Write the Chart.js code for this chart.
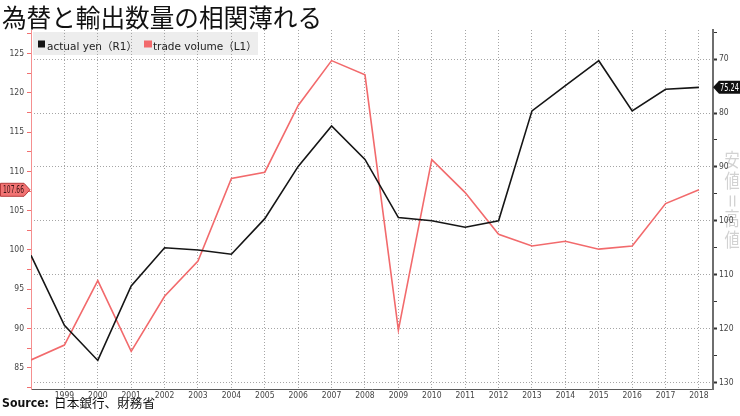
<!DOCTYPE html>
<html>
<head>
<meta charset="utf-8">
<script src="https://cdn.jsdelivr.net/npm/chart.js@4/dist/chart.umd.min.js"></script>
<style>
html,body{margin:0;padding:0;background:#fff;}
canvas{display:block;}
</style>
</head>
<body>
<canvas id="c" width="740" height="416"></canvas>
<script>
// ---- data ----
const years = [1998,1999,2000,2001,2002,2003,2004,2005,2006,2007,2008,2009,2010,2011,2012,2013,2014,2015,2016,2017,2018];
const actualYen = [106.4,119.4,125.9,112.1,105.0,105.4,106.2,99.6,89.9,82.4,88.6,99.4,100.0,101.2,100.0,79.6,74.9,70.3,79.6,75.6,75.24];
const tradeVolume = [86.0,87.9,96.1,87.1,94.1,98.6,109.1,109.9,118.4,124.1,122.3,89.8,111.5,107.3,102.0,100.5,101.1,100.1,100.5,105.9,107.66];
const xTickYears = [1999,2000,2001,2002,2003,2004,2005,2006,2007,2008,2009,2010,2011,2012,2013,2014,2015,2016,2017,2018];
const leftTickLabels = [85,90,95,100,105,110,115,120,125];
const rightTickLabels = [70,80,90,100,110,120,130];
const titleText = '為替と輸出数量の相関薄れる';
const legendLabels = ['actual yen（R1）', 'trade volume（L1）'];
const sourceLabel = 'Source:';
const sourceText = '日本銀行、財務省';
const watermarkChars = ['安','値','＝','高','値'];

// minor ticks derived from the labelled ticks
const leftTicks = [];
leftTickLabels.forEach(v => { leftTicks.push(v - 2.5, v); });
leftTicks.push(127.5);
const rightTicks = [];
rightTickLabels.forEach(v => { rightTicks.push(v - 5, v); });

const RED = '#f26a6c';
const BLACK = '#151515';
const TICK_FONT = {family: '"Liberation Sans Narrow","DejaVu Sans Condensed","Liberation Sans",sans-serif', size: 8.5};
const LEGEND_FONT = '10.5px "DejaVu Sans", "Noto Sans CJK JP"';

function fitText(ctx, text, x, y, w, font, color) {
  ctx.save();
  ctx.font = font;
  ctx.fillStyle = color;
  ctx.textBaseline = 'alphabetic';
  ctx.textAlign = 'left';
  const m = ctx.measureText(text).width;
  ctx.translate(x, y);
  ctx.scale(w / m, 1);
  ctx.fillText(text, 0, 0);
  ctx.restore();
}

function plainText(ctx, text, x, y, font, color) {
  ctx.save();
  ctx.font = font;
  ctx.fillStyle = color;
  ctx.textBaseline = 'alphabetic';
  ctx.textAlign = 'left';
  ctx.fillText(text, x, y);
  ctx.restore();
}

const overlay = {
  id: 'overlay',
  beforeDraw(chart) {
    const ctx = chart.ctx;
    ctx.save();
    ctx.fillStyle = '#fff';
    ctx.fillRect(0, 0, chart.width, chart.height);
    // legend box
    ctx.fillStyle = '#ededed';
    ctx.fillRect(33, 32, 225, 23);
    // vertical watermark
    ctx.fillStyle = '#d2d2d2';
    ctx.font = '19px "Noto Sans CJK JP"';
    ctx.textAlign = 'center';
    ctx.textBaseline = 'middle';
    const ys = [160, 181, 201, 219, 240];
    watermarkChars.forEach((ch, i) => {
      ctx.save();
      ctx.translate(732, ys[i]);
      if (ch === '＝') ctx.rotate(Math.PI / 2);
      ctx.scale(0.8, 1);
      ctx.fillText(ch, 0, 0);
      ctx.restore();
    });
    ctx.restore();
  },
  afterDraw(chart) {
    const ctx = chart.ctx;
    // title
    fitText(ctx, titleText, 2, 26.5, 320, '25px "Noto Sans CJK JP"', '#111');
    // legend
    ctx.save();
    ctx.fillStyle = BLACK; ctx.fillRect(38, 40.5, 7, 7);
    ctx.fillStyle = RED; ctx.fillRect(144, 40.5, 8, 7);
    ctx.restore();
    plainText(ctx, legendLabels[0], 47, 49.5, LEGEND_FONT, '#222');
    plainText(ctx, legendLabels[1], 153, 49.5, LEGEND_FONT, '#222');
    // source
    fitText(ctx, sourceLabel, 2, 407, 47, 'bold 12px "DejaVu Sans"', '#111');
    fitText(ctx, sourceText, 54, 407.5, 101, '12.5px "Noto Sans CJK JP"', '#111');
    // last-value badges
    const yl = chart.scales.yL.getPixelForValue(tradeVolume[tradeVolume.length - 1]);
    ctx.save();
    ctx.beginPath();
    ctx.moveTo(0.5, yl - 6.5); ctx.lineTo(24, yl - 6.5); ctx.lineTo(30, yl);
    ctx.lineTo(24, yl + 6.5); ctx.lineTo(0.5, yl + 6.5); ctx.closePath();
    ctx.fillStyle = '#f27373'; ctx.fill();
    ctx.strokeStyle = '#b53b3b'; ctx.lineWidth = 1; ctx.stroke();
    ctx.restore();
    fitText(ctx, tradeVolume[tradeVolume.length - 1].toFixed(2), 3, yl + 3.5, 21, '11px "DejaVu Sans"', '#3a1414');

    const yr = chart.scales.yR.getPixelForValue(actualYen[actualYen.length - 1]);
    ctx.save();
    ctx.beginPath();
    ctx.moveTo(740, yr - 6.5); ctx.lineTo(719, yr - 6.5); ctx.lineTo(713, yr);
    ctx.lineTo(719, yr + 6.5); ctx.lineTo(740, yr + 6.5); ctx.closePath();
    ctx.fillStyle = '#111'; ctx.fill();
    ctx.restore();
    fitText(ctx, actualYen[actualYen.length - 1].toFixed(2), 720, yr + 3.5, 19, '11px "DejaVu Sans"', '#fff');
  }
};

function build() {
  new Chart(document.getElementById('c'), {
    type: 'line',
    data: {
      datasets: [
        {
          label: legendLabels[0],
          data: years.map((y, i) => ({x: y, y: actualYen[i]})),
          yAxisID: 'yR',
          borderColor: BLACK,
          borderWidth: 1.6,
          pointRadius: 0,
          tension: 0
        },
        {
          label: legendLabels[1],
          data: years.map((y, i) => ({x: y, y: tradeVolume[i]})),
          yAxisID: 'yL',
          borderColor: RED,
          borderWidth: 1.6,
          pointRadius: 0,
          tension: 0
        }
      ]
    },
    options: {
      responsive: false,
      animation: false,
      devicePixelRatio: 1,
      layout: {padding: {top: 30, left: 0, right: 0, bottom: 0}},
      plugins: {legend: {display: false}, tooltip: {enabled: false}},
      scales: {
        x: {
          type: 'linear',
          min: 1998,
          max: 2018.42,
          afterBuildTicks: s => { s.ticks = xTickYears.map(v => ({value: v})); },
          afterFit: s => { s.height = 27; },
          grid: {color: '#a5a5a5', lineWidth: 1, drawTicks: false},
          border: {color: '#5a5a5a', width: 1, dash: [1, 2]},
          ticks: {font: TICK_FONT, color: '#444', padding: 2, maxRotation: 0, autoSkip: false, callback: v => String(v)}
        },
        yL: {
          position: 'left',
          min: 82.3,
          max: 128.0,
          afterBuildTicks: s => { s.ticks = leftTicks.map(v => ({value: v})); },
          afterFit: s => { s.width = 31; },
          grid: {drawOnChartArea: false, tickLength: 4, tickColor: '#f07070', tickWidth: 1},
          border: {color: '#f59090', width: 1},
          ticks: {font: TICK_FONT, color: '#444', padding: 3, autoSkip: false,
                  callback: v => leftTickLabels.includes(v) ? String(v) : ''}
        },
        yR: {
          position: 'right',
          reverse: true,
          min: 64.6,
          max: 131.2,
          afterBuildTicks: s => { s.ticks = rightTicks.map(v => ({value: v})); },
          afterFit: s => { s.width = 27; },
          grid: {
            drawOnChartArea: true,
            color: c => (c.tick && rightTickLabels.includes(c.tick.value)) ? '#a5a5a5' : 'rgba(0,0,0,0)',
            tickColor: '#333',
            tickLength: 4,
            tickWidth: c => (c.tick && rightTickLabels.includes(c.tick.value)) ? 2 : 1
          },
          border: {color: '#6e6e6e', width: 2, dash: [1, 2]},
          ticks: {font: TICK_FONT, color: '#444', padding: 2, autoSkip: false,
                  callback: v => rightTickLabels.includes(v) ? String(v) : ''}
        }
      }
    },
    plugins: [overlay]
  });
}

const fontLoads = [
  '13px "DejaVu Sans"', 'bold 12px "DejaVu Sans"', '11px "DejaVu Sans"', '10.5px "DejaVu Sans"',
  '25px "Noto Sans CJK JP"', '8.5px "Liberation Sans Narrow"', '8.5px "DejaVu Sans Condensed"', '8.5px "Liberation Sans"'
].map(f => document.fonts.load(f, 'Aa12為替日本安値（）').catch(() => null));
Promise.all(fontLoads).then(build, build);
</script>
</body>
</html>
